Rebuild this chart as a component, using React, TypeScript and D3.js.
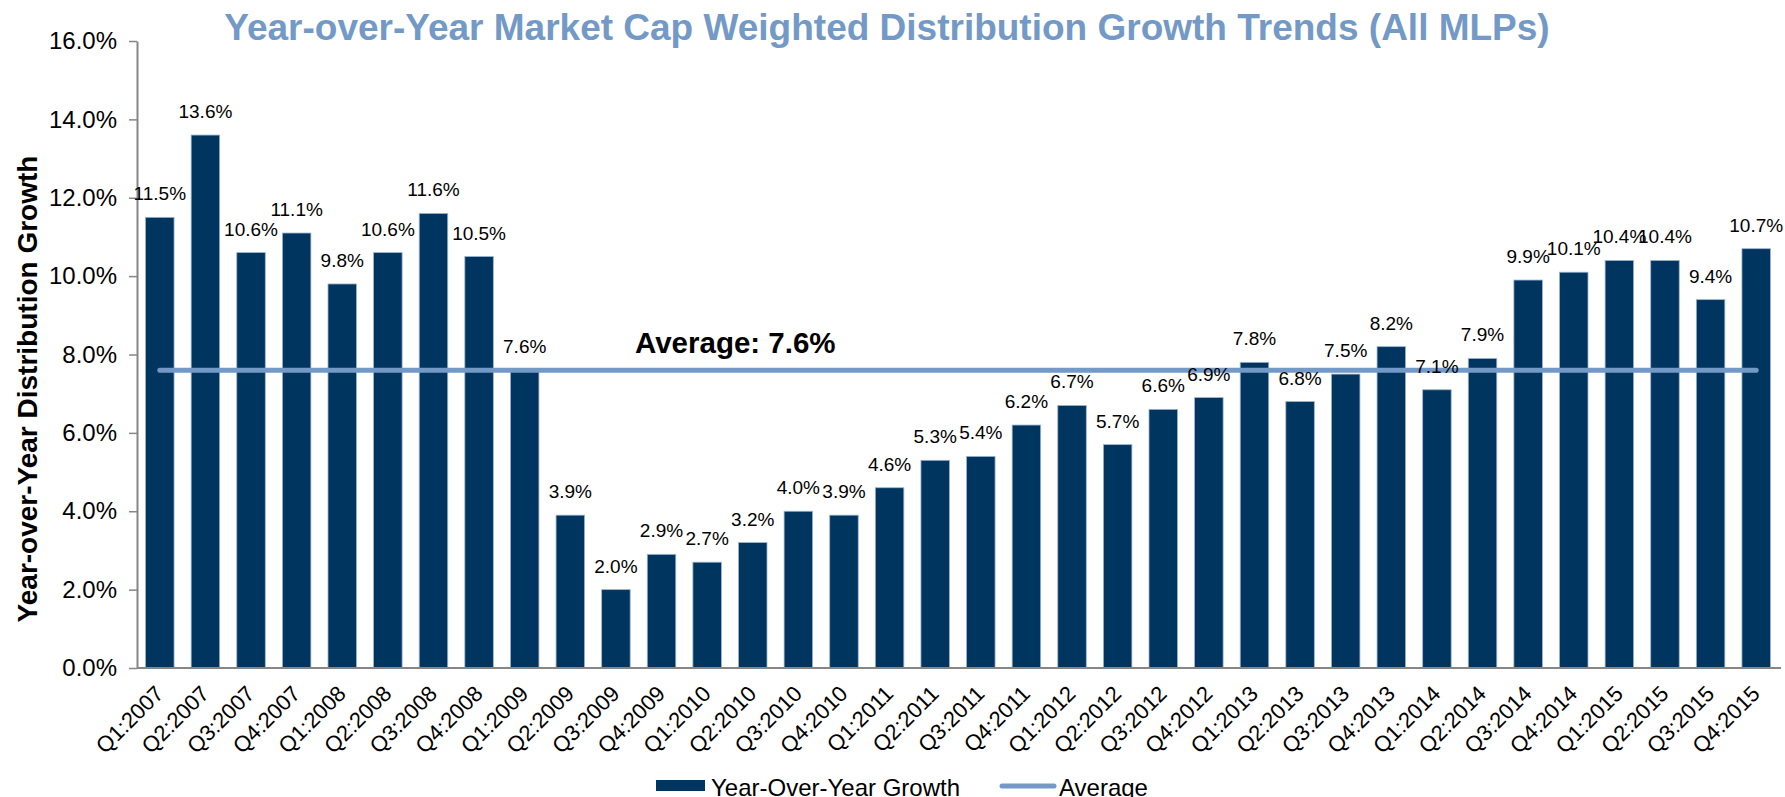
import React, { useEffect, useRef } from 'react';
import * as d3 from 'd3';

// chart data
const quarters = [
  'Q1:2007', 'Q2:2007', 'Q3:2007', 'Q4:2007',
  'Q1:2008', 'Q2:2008', 'Q3:2008', 'Q4:2008',
  'Q1:2009', 'Q2:2009', 'Q3:2009', 'Q4:2009',
  'Q1:2010', 'Q2:2010', 'Q3:2010', 'Q4:2010',
  'Q1:2011', 'Q2:2011', 'Q3:2011', 'Q4:2011',
  'Q1:2012', 'Q2:2012', 'Q3:2012', 'Q4:2012',
  'Q1:2013', 'Q2:2013', 'Q3:2013', 'Q4:2013',
  'Q1:2014', 'Q2:2014', 'Q3:2014', 'Q4:2014',
  'Q1:2015', 'Q2:2015', 'Q3:2015', 'Q4:2015',
];
const growth = [
  11.5, 13.6, 10.6, 11.1,
  9.8, 10.6, 11.6, 10.5,
  7.6, 3.9, 2.0, 2.9,
  2.7, 3.2, 4.0, 3.9,
  4.6, 5.3, 5.4, 6.2,
  6.7, 5.7, 6.6, 6.9,
  7.8, 6.8, 7.5, 8.2,
  7.1, 7.9, 9.9, 10.1,
  10.4, 10.4, 9.4, 10.7,
];
const averageValue = 7.6;
const yTicks = [0, 2, 4, 6, 8, 10, 12, 14, 16];
const seriesNames = ['Year-Over-Year Growth', 'Average'];
const chartTitle = 'Year-over-Year Market Cap Weighted Distribution Growth Trends (All MLPs)';
const yTitle = 'Year-over-Year Distribution Growth';
const averageLabel = 'Average: 7.6%';

const W = 1785;
const H = 797;
const FONT = "Arial, 'Liberation Sans', Helvetica, sans-serif";
const BAR = '#00355F';
const LINE = '#7399C6';
const AXIS = '#868686';

const App = () => {
  const svgRef = useRef<SVGSVGElement>(null);

  useEffect(() => {
    const svg = d3.select(svgRef.current);
    svg.selectAll('*').remove();
    svg.style('font-family', FONT);

    const margin = { top: 41, right: 6, bottom: 129, left: 137 };
    const x = d3.scaleBand()
      .domain(quarters)
      .range([margin.left, W - margin.right])
      .paddingInner(0.375)
      .paddingOuter(0.1875);
    const y = d3.scaleLinear().domain([0, 16]).range([H - margin.bottom, margin.top]);
    const base = y(0);

    // title
    svg.append('text')
      .attr('x', 887).attr('y', 40)
      .attr('text-anchor', 'middle')
      .attr('font-size', 37).attr('font-weight', 'bold')
      .attr('fill', LINE)
      .text(chartTitle);

    // y axis
    const yAxis = d3.axisLeft(y)
      .tickValues(yTicks)
      .tickSize(8)
      .tickSizeOuter(0)
      .tickPadding(12)
      .tickFormat(d => (d as number).toFixed(1) + '%');
    const yG = svg.append('g').attr('transform', `translate(${margin.left},0)`).call(yAxis);
    yG.select('.domain').attr('stroke', AXIS).attr('stroke-width', 2);
    yG.selectAll('.tick line').attr('stroke', AXIS).attr('stroke-width', 1.5);
    yG.selectAll('.tick text')
      .attr('font-size', 24).attr('font-family', FONT).attr('fill', '#000');

    svg.append('text')
      .attr('transform', `translate(37,389) rotate(-90)`)
      .attr('text-anchor', 'middle')
      .attr('font-size', 28).attr('font-weight', 'bold')
      .attr('fill', '#000')
      .text(yTitle);

    // bars
    svg.append('g').selectAll('rect')
      .data(growth)
      .join('rect')
      .attr('x', (d, i) => x(quarters[i]) as number)
      .attr('y', d => y(d))
      .attr('width', x.bandwidth())
      .attr('height', d => base - y(d))
      .attr('fill', BAR)
      .attr('stroke', '#9db4cf')
      .attr('stroke-width', 0.8);

    // x axis line
    svg.append('line')
      .attr('x1', margin.left).attr('x2', W - margin.right + 2)
      .attr('y1', base).attr('y2', base)
      .attr('stroke', AXIS).attr('stroke-width', 2);

    // x labels
    svg.append('g').selectAll('text')
      .data(quarters)
      .join('text')
      .attr('transform', d => {
        const cx = (x(d) as number) + x.bandwidth() / 2;
        return `translate(${cx + 5},${base + 27}) rotate(-45)`;
      })
      .attr('text-anchor', 'end')
      .attr('font-size', 22)
      .attr('fill', '#000')
      .text(d => d);

    // average line
    const avgLine = d3.line<string>()
      .x(d => (x(d) as number) + x.bandwidth() / 2)
      .y(() => y(averageValue));
    svg.append('path')
      .attr('d', avgLine([quarters[0], quarters[quarters.length - 1]]))
      .attr('stroke', LINE).attr('stroke-width', 5)
      .attr('stroke-linecap', 'round')
      .attr('fill', 'none');

    svg.append('text')
      .attr('x', 635).attr('y', y(averageValue) - 17)
      .attr('font-size', 29.5).attr('font-weight', 'bold')
      .attr('fill', '#000')
      .text(averageLabel);

    // data labels
    svg.append('g').selectAll('text')
      .data(growth)
      .join('text')
      .attr('x', (d, i) => (x(quarters[i]) as number) + x.bandwidth() / 2)
      .attr('y', d => y(d) - 17)
      .attr('text-anchor', 'middle')
      .attr('font-size', 19)
      .attr('fill', '#000')
      .text(d => d.toFixed(1) + '%');

    // legend
    const lg = svg.append('g');
    lg.append('rect')
      .attr('x', 656).attr('y', 780)
      .attr('width', 49).attr('height', 11)
      .attr('fill', BAR);
    lg.append('text')
      .attr('x', 711).attr('y', 796)
      .attr('font-size', 24).attr('fill', '#000')
      .text(seriesNames[0]);
    lg.append('line')
      .attr('x1', 1002).attr('x2', 1054)
      .attr('y1', 786).attr('y2', 786)
      .attr('stroke', LINE).attr('stroke-width', 5)
      .attr('stroke-linecap', 'round');
    lg.append('text')
      .attr('x', 1059).attr('y', 796)
      .attr('font-size', 24).attr('fill', '#000')
      .text(seriesNames[1]);
  }, []);

  return (
    <svg
      ref={svgRef}
      width={W}
      height={H}
      style={{ position: 'absolute', left: 0, top: 0, background: '#fff' }}
    />
  );
};

export default App;
